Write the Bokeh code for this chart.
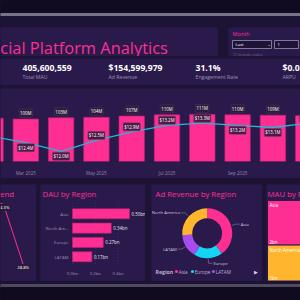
import math
from bokeh.plotting import figure
from bokeh.layouts import column, row
from bokeh.models import Range1d, FixedTicker, Spacer, ColumnDataSource
from bokeh.embed import file_html
from bokeh.resources import INLINE
from bokeh.core.properties import value

# ---------------- data ----------------
month_labels = ["Feb 2025", "Mar 2025", "Apr 2025", "May 2025", "Jun 2025",
                "Jul 2025", "Aug 2025", "Sep 2025", "Oct 2025", "Nov 2025"]
month_index = [2, 3, 4, 5, 6, 7, 8, 9, 10, 11]
monthly_mau_m = [102, 100, 103, 104, 107, 110, 111, 110, 109, 108]
monthly_ad_rev_m = [12.7, 12.4, 12.0, 12.5, 12.9, 13.2, 13.3, 13.2, 13.1, 13.3]

kpi_values = ["405,600,559", "$154,599,979", "31.1%", "$0.03"]
kpi_names = ["Total MAU", "Ad Revenue", "Engagement Rate", "ARPU"]

trend_month_index = [9, 10, 11]
engagement_pct = [35.0, 34.3, 28.8]

regions = ["Asia", "North America", "Europe", "LATAM"]
dau_bn = [0.50, 0.34, 0.27, 0.17]
dau_ticks = [0.0, 0.2, 0.4]
ad_rev_region_m = [62.0, 40.5, 28.5, 23.6]
mau_region_bn = [1.80, 1.45, 1.00, 0.62]

# ---------------- style ----------------
FONT = "Open Sans"
BG = "#1c1335"
PANEL = "#2a1a4c"
DARK = "#100b1e"
PINK = "#ff2e93"
CYAN_LINE = "#1fb8d6"
GREY = "#9b92b5"
region_colors = {"Asia": PINK, "Europe": "#14d4f4", "LATAM": "#a64cf0",
                 "North America": "#ffb52e"}


def base(w, h, x_range, y_range, fill, **kw):
    opts = dict(x_axis_type=None, y_axis_type=None, min_border=0)
    opts.update(kw)
    p = figure(width=w, height=h, x_range=x_range, y_range=y_range,
               output_backend="svg", toolbar_location=None, **opts)
    p.frame_align = False
    p.grid.visible = False
    p.outline_line_color = None
    p.background_fill_color = fill
    p.border_fill_color = fill
    return p


def canvas(w, h, fill, flip=True):
    return base(w, h, Range1d(0, w), Range1d(h, 0) if flip else Range1d(0, h),
                fill)


def write(p, x, y, txt, size, color, align="left", baseline="middle",
          bold=False, **kw):
    return p.text(x=x, y=y, text=txt, text_font=value(FONT),
                  text_font_size=size, text_color=color, text_align=align,
                  text_baseline=baseline,
                  text_font_style="bold" if bold else "normal", **kw)


# ---------------- frame bands ----------------
top = canvas(300, 27, BG)
top.quad(left=[0], right=[300], top=[0], bottom=[13], color=DARK)
top.quad(left=[0], right=[300], top=[13], bottom=[15], color="#77718a")

bottom = canvas(300, 19, BG)
bottom.quad(left=[0], right=[300], top=[3], bottom=[6], color="#4f4a5e")
bottom.quad(left=[0], right=[300], top=[6], bottom=[19], color=DARK)

# ---------------- title ----------------
title = canvas(218, 29, PANEL)
write(title, [-19], [20], ["Social Platform Analytics"], "16.4px", PINK,
      baseline="alphabetic")

# ---------------- month slicer ----------------
month = canvas(72, 29, PANEL)
write(month, [4], [6], ["Month"], "5.6px", PINK)
month.quad(left=[4, 46], right=[43, 70], top=[13, 13], bottom=[21, 21],
           fill_color="#1f1438", line_color="#9a93ad", line_width=0.8)
write(month, [7], [17], ["Last"], "4.2px", "white")
write(month, [40], [16.5], ["⌄"], "5px", "#d0cadf", align="center")
write(month, [49], [17], ["1"], "4.2px", "white")
write(month, [4], [26.5], ["☐ Include today"], "4px", "#6f6788")

# ---------------- KPI cards ----------------
kpi = canvas(300, 27, PANEL)
kpi_x = [22, 108, 195, 282]
write(kpi, kpi_x, [9] * 4, kpi_values, "8.6px", "white", bold=True)
write(kpi, kpi_x, [18] * 4, kpi_names, "5.2px", GREY)

# ---------------- monthly MAU / ad revenue combo ----------------
bar = base(300, 90, Range1d(2.283, 10.782), Range1d(0, 172), PANEL,
           x_axis_type="linear", min_border_bottom=16)
bar.extra_y_ranges = {"rev": Range1d(11.53, 14.9)}

rev_offset = [5]
for prev, cur in zip(monthly_ad_rev_m[:-1], monthly_ad_rev_m[1:]):
    rev_offset.append(5 if cur < prev else -5)

src = ColumnDataSource(dict(
    x=month_index, mau=monthly_mau_m, rev=monthly_ad_rev_m,
    mau_lbl=[f"{v}M" for v in monthly_mau_m],
    rev_lbl=[f"${v:.1f}M" for v in monthly_ad_rev_m],
    rev_off=rev_offset))
bar.vbar(x="x", top="mau", width=0.72, source=src, fill_color=PINK,
         line_color="#c31f70", line_width=0.7)
bar.line(x="x", y="rev", y_range_name="rev", source=src,
         line_color=CYAN_LINE, line_width=1.3)
write(bar, "x", "mau", "mau_lbl", "4.4px", "white", align="center",
      source=src, y_offset=-6, background_fill_color="#2c1b3c",
      border_line_color="#55385f", border_line_width=0.5, padding=1,
      border_radius=1)
write(bar, "x", "rev", "rev_lbl", "4.4px", "white", align="center",
      source=src, y_range_name="rev", y_offset="rev_off",
      background_fill_color="#4a1a45", border_line_color="#7c3a6e",
      border_line_width=0.5, padding=1, border_radius=1)
bar.xaxis.ticker = FixedTicker(ticks=month_index[1::2])
bar.xaxis.major_label_overrides = {m: lbl for m, lbl in
                                   zip(month_index, month_labels)}
bar.xaxis.axis_line_color = None
bar.xaxis.major_tick_line_color = None
bar.xaxis.minor_tick_line_color = None
bar.xaxis.major_label_standoff = 2
bar.xaxis.major_label_text_font = FONT
bar.xaxis.major_label_text_font_size = "4.6px"
bar.xaxis.major_label_text_color = "#8f87a5"

# ---------------- engagement trend ----------------
trend = base(36, 97, Range1d(9.848, 11.675), Range1d(27.24, 36.13), PANEL)
trend.extra_x_ranges = {"px": Range1d(0, 36)}
trend.extra_y_ranges = {"px": Range1d(97, 0)}
trend.line(trend_month_index, engagement_pct, line_color=PINK, line_width=1)
write(trend, trend_month_index, engagement_pct,
      [f"{v:.1f}%" for v in engagement_pct], "4.2px", "white",
      align="center", y_offset=3, background_fill_color="#2a1a3e",
      padding=1)
write(trend, [13.5], [9], ["Engagement Trend"], "7.8px", PINK, align="right",
      x_range_name="px", y_range_name="px")

# ---------------- DAU by region ----------------
# value axis: 0 bn sits 32 px in, 114 px per bn; rows 14.33 px apart
dau = base(105, 97, Range1d(-32 / 114, 73 / 114),
           Range1d(67.7 / 14.33, -29.3 / 14.33), PANEL)
dau.extra_x_ranges = {"px": Range1d(0, 105)}
dau.extra_y_ranges = {"px": Range1d(97, 0)}
pos = list(range(len(regions)))
dau.segment(x0=dau_ticks, x1=dau_ticks, y0=[-0.75] * 3, y1=[3.6] * 3,
            line_color="#4a3d6a", line_dash="1 2", line_width=0.6)
dau.hbar(y=pos, right=dau_bn, left=0, height=0.7, fill_color=PINK,
         line_color="#c31f70", line_width=0.6)
x_end = 73 / 114
fits_outside = [v + 0.13 < x_end for v in dau_bn]
out_i = [i for i, f in enumerate(fits_outside) if f]
in_i = [i for i, f in enumerate(fits_outside) if not f]
write(dau, [dau_bn[i] for i in out_i], [pos[i] for i in out_i],
      [f"{dau_bn[i]:.2f}bn" for i in out_i], "4.4px", "#e6e1f0", x_offset=2)
write(dau, [dau_bn[i] for i in in_i], [pos[i] for i in in_i],
      [f"{dau_bn[i]:.2f}bn" for i in in_i], "4.4px", "white", align="right",
      x_offset=-2)
short = [r if len(r) < 10 else r[:8] + "..." for r in regions]
write(dau, [0] * 4, pos, short, "4.3px", GREY, align="right", x_offset=-4)
write(dau, dau_ticks, [88] * 3, [f"{t:.1f}bn" for t in dau_ticks], "4.3px",
      GREY, align="center", y_range_name="px")
write(dau, [2], [9], ["DAU by Region"], "7.8px", PINK, x_range_name="px",
      y_range_name="px")

# ---------------- ad revenue by region (donut) ----------------
ad = canvas(111, 97, PANEL, flip=False)
write(ad, [4], [88], ["Ad Revenue by Region"], "7.8px", PINK)
donut_regions = sorted(regions)
donut_vals = [ad_rev_region_m[regions.index(r)] for r in donut_regions]
total = sum(donut_vals)
cx, cy, r_in, r_out = 55.7, 48.2, 15, 25
starts, ends, mids = [], [], []
cum = 0.0
for v in donut_vals:
    a0 = math.pi / 2 - cum / total * 2 * math.pi
    cum += v
    a1 = math.pi / 2 - cum / total * 2 * math.pi
    starts.append(a0)
    ends.append(a1)
    mids.append((a0 + a1) / 2)
ad.annular_wedge(x=cx, y=cy, inner_radius=r_in, outer_radius=r_out,
                 start_angle=starts, end_angle=ends, direction="clock",
                 fill_color=[region_colors[r] for r in donut_regions],
                 line_color=None)
lx, ly, tx, ty, ta = [], [], [], [], []
for r, a in zip(donut_regions, mids):
    x1, y1 = cx + (r_out + 1) * math.cos(a), cy + (r_out + 1) * math.sin(a)
    x2, y2 = cx + (r_out + 5) * math.cos(a), cy + (r_out + 5) * math.sin(a)
    side = 1 if math.cos(a) >= 0 else -1
    x3 = x2 + 4 * side
    lx.append([x1, x2, x3])
    ly.append([y1, y2, y2])
    tx.append(x3 + side)
    ty.append(y2)
    ta.append("left" if side > 0 else "right")
ad.multi_line(lx, ly, line_color="#8a82a0", line_width=0.6)
for x, y, t, a in zip(tx, ty, donut_regions, ta):
    write(ad, [x], [y], [t], "4.2px", "#cfc9de", align=a)
write(ad, [4], [10], ["Region"], "5.2px", "#b9b2cb", bold=True)
leg_dot_x = [25, 41, 62]
ad.scatter(x=leg_dot_x, y=[10] * 3, size=3.2,
           fill_color=[region_colors[r] for r in donut_regions[:3]],
           line_color=None)
write(ad, [x + 2.2 for x in leg_dot_x], [10] * 3, donut_regions[:3], "4.7px",
      "#b9b2cb")
write(ad, [104], [10], ["▶"], "5px", "#d6d0e4", align="center")

# ---------------- MAU by region (treemap) ----------------
mau = canvas(34, 97, PANEL)
write(mau, [1], [9], ["MAU by Region"], "7.8px", PINK)
order = sorted(range(len(regions)), key=lambda i: -mau_region_bn[i])
area_l, area_t, area_w, area_h = 1, 16, 104, 80.5
tot = sum(mau_region_bn)
L, R, T, B, C, names, vals = [], [], [], [], [], [], []
x0 = area_l
for k in range(0, len(order), 2):
    group = order[k:k + 2]
    gsum = sum(mau_region_bn[i] for i in group)
    gw = gsum / tot * area_w
    y0 = area_t
    for i in group:
        h = mau_region_bn[i] / gsum * area_h
        L.append(x0); R.append(x0 + gw); T.append(y0); B.append(y0 + h)
        C.append(region_colors[regions[i]])
        names.append(regions[i]); vals.append(mau_region_bn[i])
        y0 += h
    x0 += gw
mau.quad(left=L, right=R, top=T, bottom=B, fill_color=C, line_color=PANEL,
         line_width=1)
write(mau, [l + 2 for l in L], [t + 4.5 for t in T], names, "4.5px", "white")
write(mau, [l + 2 for l in L], [b - 3.5 for b in B],
      [f"{v:.0f}bn" for v in vals], "4.5px", "white")

# ---------------- page layout ----------------
page = column(
    top,
    row(title, Spacer(width=10, height=29), month),
    Spacer(width=300, height=2),
    kpi,
    Spacer(width=300, height=3),
    bar,
    Spacer(width=300, height=6),
    row(trend, Spacer(width=4, height=97), dau, Spacer(width=6, height=97),
        ad, Spacer(width=4, height=97), mau),
    bottom,
    spacing=0,
    styles={"background-color": BG},
)

open("out.html", "w").write(file_html(page, INLINE))
